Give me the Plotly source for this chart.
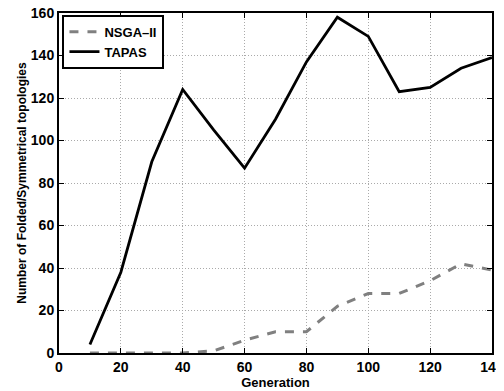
import plotly.graph_objects as go

generations = [10, 20, 30, 40, 50, 60, 70, 80, 90, 100, 110, 120, 130, 140]
nsga2 = [0, 0, 0, 0, 1, 6, 10, 10, 22, 28, 28, 34, 42, 39]
tapas = [4, 38, 90, 124, 105, 87, 110, 137, 158, 149, 123, 125, 134, 139]
x_ticks = [0, 20, 40, 60, 80, 100, 120, 140]
y_ticks = [0, 20, 40, 60, 80, 100, 120, 140, 160]

fam = "Liberation Sans, Arial, sans-serif"
font = dict(family=fam, size=13, color="black")

fig = go.Figure()
fig.add_trace(go.Scatter(x=generations, y=nsga2, mode="lines", name="<b>NSGA\u2013II</b>",
                         line=dict(color="#808080", width=3, dash="dash")))
fig.add_trace(go.Scatter(x=generations, y=tapas, mode="lines", name="<b>TAPAS</b>",
                         line=dict(color="black", width=2.8)))

axis_common = dict(showline=True, linecolor="black", linewidth=2, mirror="ticks",
                   ticks="inside", ticklen=5, tickwidth=1, tickcolor="black",
                   showgrid=True, gridcolor="#aaaaaa", griddash="1px,2px", gridwidth=1,
                   zeroline=False, automargin=False, ticklabeloverflow="allow",
                   tickfont=dict(family=fam, size=14, color="black"))

fig.update_layout(
    width=496, height=383,
    margin=dict(l=51, r=12, t=5, b=38),
    paper_bgcolor="white", plot_bgcolor="white",
    font=font,
    showlegend=True,
    legend=dict(x=0.008, y=0.995, xanchor="left", yanchor="top",
                bgcolor="white", bordercolor="black", borderwidth=2,
                font=dict(family=fam, size=13, color="black"),
                tracegroupgap=0, itemwidth=30),
    xaxis=dict(range=[0, 140], tickvals=x_ticks, ticktext=[f"<b>{v}</b>" for v in x_ticks],
               title=dict(text="<b>Generation</b>", standoff=0, font=dict(size=13)),
               **axis_common),
    yaxis=dict(range=[0, 160], tickvals=y_ticks, ticktext=[f"<b>{v}</b>" for v in y_ticks],
               title=dict(text="<b>Number of Folded/Symmetrical topologies</b>", standoff=2, font=dict(size=12)),
               **axis_common),
)

fig.write_html("out.html")
